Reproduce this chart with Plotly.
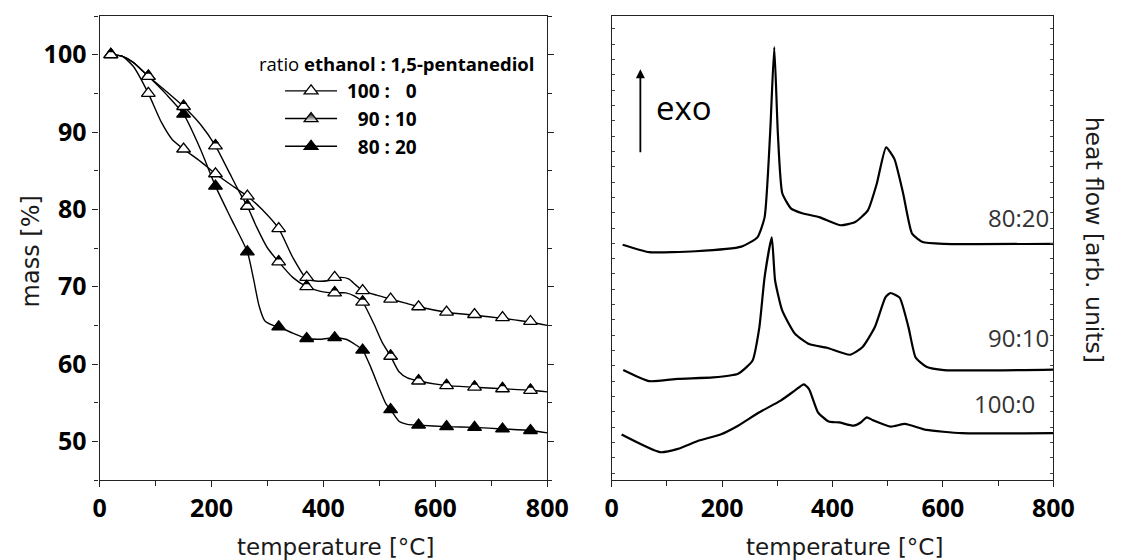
import plotly.graph_objects as go

# ---------------- TGA data (left panel) ----------------
# markers
T_mark = [20, 87, 150, 207, 264, 320, 370, 420, 470, 520, 570, 620, 670, 720, 770]
m_100_0 = [100, 95.0, 87.8, 84.6, 81.7, 77.5, 71.2, 71.2, 69.5, 68.4, 67.4, 66.7, 66.4, 66.0, 65.5]
m_90_10 = [100, 97.2, 93.3, 88.2, 80.4, 73.2, 70.0, 69.2, 68.0, 61.0, 57.8, 57.2, 57.0, 56.8, 56.6]
m_80_20 = [100, 97.2, 92.3, 83.0, 74.5, 64.8, 63.3, 63.4, 61.8, 54.1, 52.1, 51.9, 51.8, 51.6, 51.4]

# continuous curves
T_c100 = [20, 40, 60, 87, 110, 130, 150, 180, 207, 240, 264, 290, 320, 345, 370, 390, 410, 430, 445, 458, 470, 495, 520, 545, 570, 620, 670, 720, 770, 800]
c100 = [100, 99.8, 98.5, 95.0, 91.3, 89.0, 87.8, 86.2, 84.6, 82.9, 81.7, 80.0, 77.5, 73.8, 71.0, 70.7, 70.8, 71.2, 71.0, 70.2, 69.5, 68.9, 68.4, 67.9, 67.4, 66.7, 66.3, 65.9, 65.4, 65.0]
T_c90 = [20, 40, 60, 87, 120, 150, 180, 207, 230, 250, 264, 280, 300, 320, 345, 370, 395, 420, 440, 455, 470, 490, 505, 520, 535, 550, 570, 620, 670, 720, 770, 800]
c90 = [100, 99.8, 99.0, 97.2, 95.2, 93.3, 91.0, 88.2, 85.0, 82.2, 80.4, 77.8, 75.0, 73.2, 71.2, 70.0, 69.4, 69.2, 69.2, 68.8, 68.0, 65.2, 62.8, 61.0, 59.0, 58.2, 57.8, 57.2, 57.0, 56.8, 56.6, 56.4]
T_c80 = [20, 40, 60, 87, 120, 150, 180, 207, 235, 264, 275, 285, 295, 310, 320, 345, 370, 395, 420, 440, 455, 470, 485, 500, 512, 520, 535, 550, 570, 620, 670, 720, 770, 800]
c80 = [100, 99.8, 99.0, 97.2, 94.8, 92.3, 87.8, 83.0, 78.8, 74.5, 71.0, 67.5, 65.6, 65.0, 64.8, 64.0, 63.3, 63.2, 63.4, 63.2, 62.6, 61.8, 59.5, 56.8, 54.8, 54.1, 52.6, 52.2, 52.1, 51.9, 51.8, 51.6, 51.4, 51.1]

# ---------------- DSC data (right panel, arb. units) ----------------
T_d80 = [20, 68, 152, 235, 264, 277, 287, 294.5, 301, 309, 325, 345, 377, 415, 441, 464, 480, 497, 512, 528, 544, 563, 602, 800]
d80 = [50.7, 49.1, 49.3, 50.3, 52.3, 56.6, 74.7, 93.3, 74.7, 61.8, 58.5, 57.5, 56.6, 54.9, 55.6, 58.1, 63.8, 71.7, 69.2, 61.7, 53.1, 51.3, 50.9, 50.9]
T_d90 = [21, 68, 120, 184, 229, 255, 267.5, 277, 290, 296, 309, 332, 357.5, 390, 431.5, 454, 476.5, 496, 505, 521.5, 537.6, 550.5, 570, 602, 800]
d90 = [23.7, 21.3, 21.8, 22.1, 22.9, 25.7, 32.9, 43.7, 52.3, 43.0, 36.5, 31.5, 29.3, 28.5, 27.0, 28.6, 32.9, 39.4, 40.3, 39.3, 32.9, 26.4, 24.4, 23.7, 23.8]
T_d100 = [18, 87.5, 120, 158, 197, 229, 267.5, 306, 332, 348, 357.5, 373.6, 393, 412, 438, 451, 462, 473, 505.5, 531, 570, 634, 800]
d100 = [9.8, 6.0, 6.7, 8.5, 9.8, 11.7, 14.6, 17.1, 19.3, 20.6, 19.6, 14.6, 12.6, 12.4, 11.7, 12.4, 13.5, 12.9, 11.5, 12.1, 10.8, 10.1, 10.1]

x_ticks = [0, 200, 400, 600, 800]
y_ticks = [50, 60, 70, 80, 90, 100]
series_names = ["\u00a0100 : \u20070", "\u00a0\u200790 : 10", "\u00a0\u200780 : 20"]
dsc_labels = ["80:20", "90:10", "100:0"]

W, H = 1130, 560
L0, L1 = 95, 554
R0, R1 = 620, 1073
TOP, BOT = 16, 480
ydom = [1 - BOT / H, 1 - TOP / H]

fig = go.Figure()
LINE = dict(color="black", width=1.4)

# TGA curves
for Tc, cc in [(T_c100, c100), (T_c90, c90), (T_c80, c80)]:
    fig.add_trace(go.Scatter(x=Tc, y=cc, mode="lines", line=dict(LINE, shape="spline", smoothing=0.6),
                             showlegend=False, hoverinfo="skip", xaxis="x", yaxis="y"))

MS = 12
MLINE = dict(color="black", width=1.3)
# markers
fig.add_trace(go.Scatter(x=T_mark, y=m_100_0, mode="markers", showlegend=False,
                         marker=dict(symbol="triangle-up", size=MS, color="white", line=MLINE),
                         xaxis="x", yaxis="y"))
fig.add_trace(go.Scatter(x=T_mark, y=m_80_20, mode="markers", showlegend=False,
                         marker=dict(symbol="triangle-up", size=MS, color="black", line=MLINE),
                         xaxis="x", yaxis="y"))
fig.add_trace(go.Scatter(x=T_mark, y=m_90_10, mode="markers", showlegend=False,
                         marker=dict(symbol="triangle-up", size=MS, color="white", line=MLINE),
                         xaxis="x", yaxis="y"))
# upper (filled) half of the 90:10 markers, on an axis shifted by a few pixels
fig.add_trace(go.Scatter(x=T_mark, y=m_90_10, mode="markers", showlegend=False,
                         marker=dict(symbol="triangle-up", size=6.6, color="black", line=dict(width=0)),
                         xaxis="x", yaxis="y5"))

# legend-only entries
fig.add_trace(go.Scatter(x=[None], y=[None], mode="lines+markers", name=series_names[0], legendgroup="a",
                         line=LINE, marker=dict(symbol="triangle-up", size=MS, color="white", line=MLINE),
                         xaxis="x", yaxis="y"))
fig.add_trace(go.Scatter(x=[None], y=[None], mode="lines+markers", name=series_names[1], legendgroup="b",
                         line=LINE, marker=dict(symbol="triangle-up", size=MS, color="black",
                                                gradient=dict(type="vertical", color="white"), line=MLINE),
                         xaxis="x", yaxis="y"))
fig.add_trace(go.Scatter(x=[None], y=[None], mode="lines+markers", name=series_names[2], legendgroup="c",
                         line=LINE, marker=dict(symbol="triangle-up", size=MS, color="black", line=MLINE),
                         xaxis="x", yaxis="y"))

# DSC curves
for Td, dd in [(T_d80, d80), (T_d90, d90), (T_d100, d100)]:
    fig.add_trace(go.Scatter(x=Td, y=dd, mode="lines", line=dict(color="black", width=2.2, shape="spline", smoothing=0.5),
                             showlegend=False, hoverinfo="skip", xaxis="x2", yaxis="y2"))

TICKFONT = dict(family="Open Sans", size=25, color="black", weight="bold")
common_x = dict(range=[0, 800], tickvals=x_ticks, ticks="outside", ticklen=6, tickwidth=1.2, tickcolor="#222",
                minor=dict(dtick=100, ticks="outside", ticklen=5, tickwidth=1.2, tickcolor="#222"),
                showline=True, linecolor="#222", linewidth=1.3, mirror=True, showgrid=False, zeroline=False,
                tickfont=TICKFONT, ticklabelstandoff=0)

px_per_unit = (BOT - TOP) / 60.0
shift = 4.1 / px_per_unit

fig.update_layout(
    width=W, height=H, margin=dict(l=0, r=0, t=0, b=0),
    paper_bgcolor="white", plot_bgcolor="white",
    xaxis=dict(common_x, domain=[L0 / W, L1 / W], anchor="y"),
    yaxis=dict(domain=ydom, range=[45, 105], tickvals=y_ticks, ticks="outside", ticklen=6, tickwidth=1.2, tickcolor="#222",
               minor=dict(dtick=5, tick0=0, ticks="outside", ticklen=4, tickwidth=1.2, tickcolor="#222"),
               showline=True, linecolor="#222", linewidth=1.3, mirror="allticks", showgrid=False, zeroline=False,
               tickfont=TICKFONT, ticklabelstandoff=1, anchor="x"),
    yaxis5=dict(domain=ydom, range=[45 - shift, 105 - shift], overlaying="y", anchor="x", visible=False),
    xaxis2=dict(common_x, domain=[R0 / W, R1 / W], anchor="y2"),
    yaxis2=dict(domain=ydom, range=[0, 100], tick0=1.5, dtick=3.3, ticks="inside", ticklen=3, tickwidth=1, tickcolor="#444",
                showticklabels=False, showline=True, linecolor="#222", linewidth=1.3, mirror="allticks",
                showgrid=False, zeroline=False, anchor="x2"),
    legend=dict(x=280 / W, y=1 - 72 / H, xanchor="left", yanchor="top", bgcolor="rgba(0,0,0,0)",
                font=dict(family="Open Sans", size=19, color="black", weight="bold"),
                tracegroupgap=0, traceorder="grouped", itemwidth=52),
    showlegend=True,
)

TITLEFONT = dict(family="DejaVu Sans", size=23, color="#1a1a1a", weight=400)
LABELFONT = dict(family="Open Sans", size=24, color="#333", weight=400)
annotations = [
    dict(text="temperature [°C]", x=(L0 + L1) / 2 / W + 12 / W, y=1 - 547 / H, xref="paper", yref="paper",
         showarrow=False, font=TITLEFONT, xanchor="center", yanchor="middle"),
    dict(text="temperature [°C]", x=(R0 + R1) / 2 / W + 12 / W, y=1 - 547 / H, xref="paper", yref="paper",
         showarrow=False, font=TITLEFONT, xanchor="center", yanchor="middle"),
    dict(text="mass [%]", x=25 / W, y=1 - 251 / H, xref="paper", yref="paper", textangle=-90,
         showarrow=False, font=dict(TITLEFONT, size=24), xanchor="center", yanchor="middle"),
    dict(text="heat flow [arb. units]", x=1115 / W, y=1 - 240 / H, xref="paper", yref="paper", textangle=90,
         showarrow=False, font=dict(TITLEFONT, size=23.5), xanchor="center", yanchor="middle"),
    dict(text="ratio <b>ethanol : 1,5-pentanediol</b>", x=256 / W, y=1 - 63 / H, xref="paper", yref="paper",
         showarrow=False, font=dict(family="Open Sans", size=18.5, color="black"), xanchor="left", yanchor="middle"),
    # exo arrow
    dict(x=52, y=88.5, ax=52, ay=70.3, xref="x2", yref="y2", axref="x2", ayref="y2", text="",
         showarrow=True, arrowhead=2, arrowsize=1, arrowwidth=1.8, arrowcolor="black"),
    dict(text="exo", x=76, y=80.2, xref="x2", yref="y2", showarrow=False,
         font=dict(family="Open Sans", size=33, color="black", weight=400), xanchor="left", yanchor="middle"),
    dict(text=dsc_labels[0], x=796, y=56.6, xref="x2", yref="y2", showarrow=False,
         font=LABELFONT, xanchor="right", yanchor="middle"),
    dict(text=dsc_labels[1], x=796, y=30.8, xref="x2", yref="y2", showarrow=False,
         font=LABELFONT, xanchor="right", yanchor="middle"),
    dict(text=dsc_labels[2], x=771, y=16.4, xref="x2", yref="y2", showarrow=False,
         font=LABELFONT, xanchor="right", yanchor="middle"),
]
fig.update_layout(annotations=annotations)

fig.write_html("out.html")
